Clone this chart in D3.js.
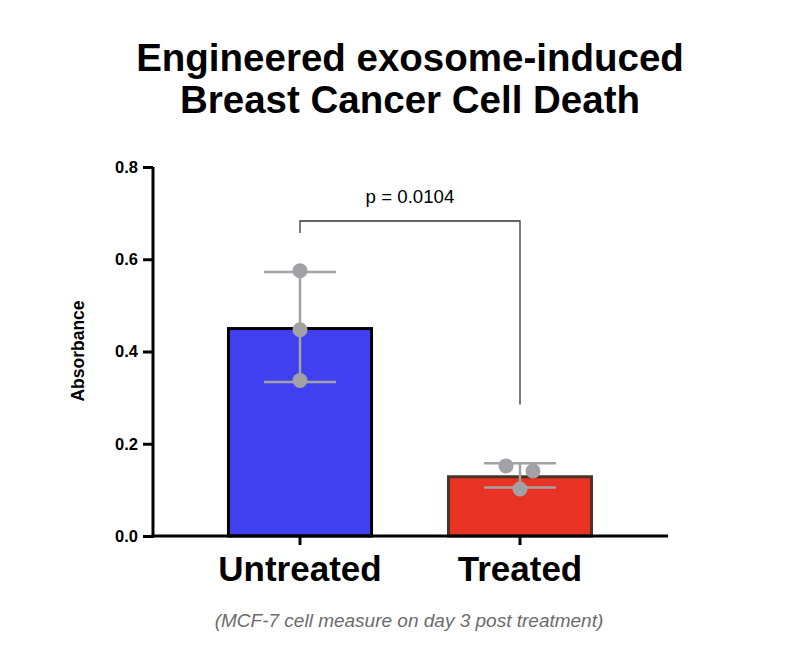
<!DOCTYPE html>
<html><head><meta charset="utf-8">
<script src="https://cdn.jsdelivr.net/npm/d3@7"></script>
<style>body{margin:0;background:#fff;} svg{display:block;font-family:"Liberation Sans",Arial,sans-serif;}</style>
</head><body>
<svg id="c" width="800" height="645"></svg>
<script>
const categories = ["Untreated", "Treated"];
const replicates = [[0.575, 0.447, 0.337], [0.152, 0.141, 0.102]];
const jitter = [[0, 0, 0], [-14, 13, 0]];
const barColors = ["#4040f0", "#e83324"];
const barStrokes = ["#000000", "#4a3328"];
const yTicks = [0, 0.2, 0.4, 0.6, 0.8];
const pLabel = "p = 0.0104";
const titleLines = ["Engineered exosome-induced", "Breast Cancer Cell Death"];
const footnote = "(MCF-7 cell measure on day 3 post treatment)";

const svg = d3.select("#c");
const y = d3.scaleLinear().domain([0, 0.8]).range([536, 167]);
const x = d3.scaleBand().domain(categories).range([190, 630]).paddingInner(0.336).paddingOuter(0.168);
const axisX0 = 153, axisX1 = 668;

const mean = a => d3.mean(a), sd = a => d3.deviation(a);

// title
svg.selectAll("text.title").data(titleLines).join("text").attr("class","title")
  .attr("x", 410).attr("y", (d,i)=>71 + i*42).attr("text-anchor","middle")
  .attr("font-size", 38.5).attr("font-weight","bold").text(d=>d);

// bars
categories.forEach((c,i)=>{
  const m = mean(replicates[i]);
  svg.append("rect").attr("x", x(c)+1.5).attr("y", y(m)+1.5)
    .attr("width", x.bandwidth()-3).attr("height", y(0)-y(m)-1.5)
    .attr("fill", barColors[i]).attr("stroke", barStrokes[i]).attr("stroke-width", 3);
});

// error bars + points
categories.forEach((c,i)=>{
  const m = mean(replicates[i]), s = sd(replicates[i]);
  const cx = x(c) + x.bandwidth()/2;
  const g = svg.append("g").attr("stroke","#a2a2a6").attr("stroke-width",2.5);
  g.append("line").attr("x1",cx).attr("x2",cx).attr("y1",y(m+s)).attr("y2",y(m-s));
  [m+s, m-s].forEach(v=>g.append("line").attr("x1",cx-36).attr("x2",cx+36).attr("y1",y(v)).attr("y2",y(v)));
  svg.selectAll(null).data(replicates[i]).join("circle")
    .attr("cx",(d,j)=>cx+jitter[i][j]).attr("cy",d=>y(d)).attr("r",7.5).attr("fill","#a2a2a6");
});

// y axis
const ya = svg.append("g").attr("transform",`translate(${axisX0},0)`)
  .call(d3.axisLeft(y).tickValues(yTicks).tickFormat(d3.format(".1f")).tickSize(10).tickPadding(5));
ya.select(".domain").attr("stroke","#000").attr("stroke-width",3).attr("d",`M0,${y(0.8)}V${y(0)+1.5}`);
ya.selectAll(".tick line").attr("stroke","#000").attr("stroke-width",3);
ya.selectAll(".tick text").attr("font-size",16.5).attr("font-weight","bold").attr("fill","#000")
  .attr("font-family","Liberation Sans, Arial, sans-serif");

// x axis
const xa = svg.append("g").attr("transform",`translate(0,${y(0)})`)
  .call(d3.axisBottom(x).tickSize(9).tickPadding(11));
xa.select(".domain").attr("stroke","#000").attr("stroke-width",3).attr("d",`M${axisX0-1.5},0H${axisX1}`);
xa.selectAll(".tick line").attr("stroke","#000").attr("stroke-width",3);
xa.selectAll(".tick text").attr("font-size",35).attr("font-weight","bold").attr("fill","#000")
  .attr("font-family","Liberation Sans, Arial, sans-serif");

// y label
svg.append("text").attr("transform","translate(84,351) rotate(-90)").attr("text-anchor","middle")
  .attr("font-size",17.5).attr("font-weight","bold").text("Absorbance");

// significance bracket
const x1 = x(categories[0]) + x.bandwidth()/2, x2 = x(categories[1]) + x.bandwidth()/2;
const by = 221;
svg.append("path").attr("fill","none").attr("stroke","#333").attr("stroke-width",1.3)
  .attr("d",`M${x1},${by+12}V${by}H${x2}V${y(0.285)}`);
svg.append("text").attr("x",(x1+x2)/2).attr("y",203).attr("text-anchor","middle")
  .attr("font-size",18.7).text(pLabel);

// footnote
svg.append("text").attr("x",409).attr("y",627).attr("text-anchor","middle")
  .attr("font-size",19).attr("font-style","italic").attr("fill","#6b6b6b").text(footnote);
</script>
</body></html>
